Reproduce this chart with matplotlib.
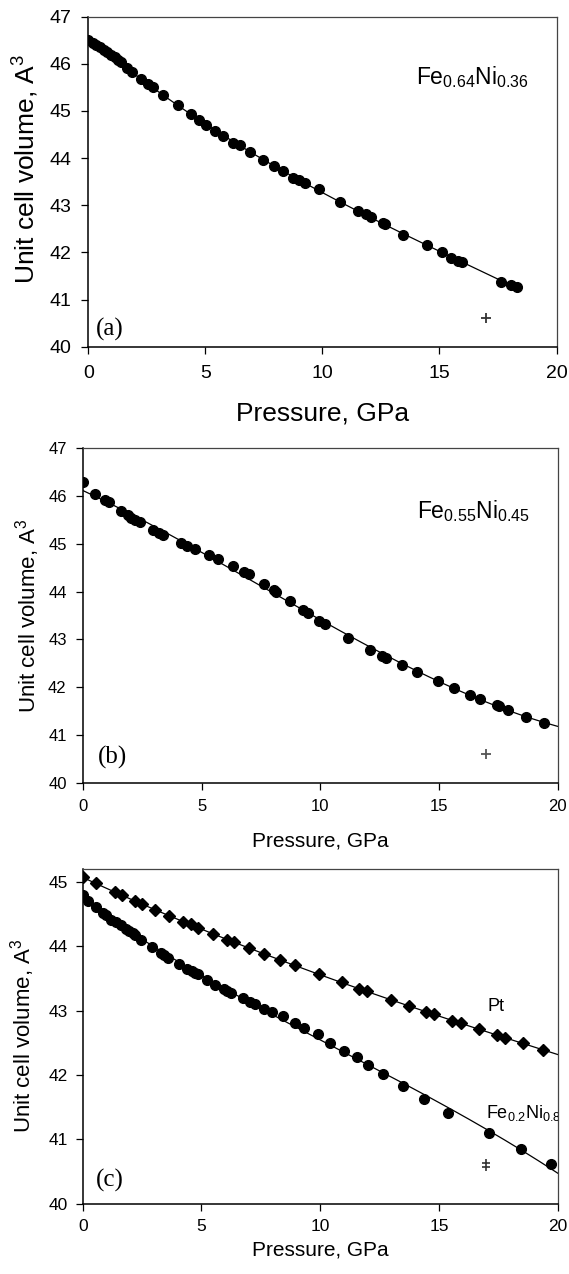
import numpy as np
import matplotlib
matplotlib.use("Agg")
import matplotlib.pyplot as plt
from matplotlib.path import Path

plt.rcParams['font.family'] = ['Liberation Sans', 'DejaVu Sans']
plt.rcParams['mathtext.fontset'] = 'custom'
plt.rcParams['mathtext.rm'] = 'Liberation Sans'
plt.rcParams['mathtext.it'] = 'Liberation Sans'
plt.rcParams['mathtext.bf'] = 'Liberation Sans'

# ---------------- data ----------------
# (a) Fe0.64Ni0.36
p_a = [0, 0.19, 0.34, 0.5, 0.65, 0.81, 0.96, 1.12, 1.27, 1.40, 1.66, 1.88, 2.23, 2.53, 2.78,
       3.21, 3.83, 4.37, 4.73, 5.01, 5.43, 5.74, 6.16, 6.47, 6.90, 7.47, 7.94, 8.31, 8.76,
       9.02, 9.26, 9.84, 10.74, 11.5, 11.86, 12.08, 12.6, 12.67, 13.44, 14.45, 15.1, 15.5,
       15.8, 15.97, 17.65, 18.05, 18.3]
v_a = [46.51, 46.45, 46.40, 46.35, 46.30, 46.25, 46.19, 46.14, 46.08, 46.03, 45.91, 45.82,
       45.68, 45.58, 45.50, 45.34, 45.13, 44.93, 44.81, 44.70, 44.58, 44.46, 44.33, 44.27,
       44.13, 43.97, 43.83, 43.72, 43.58, 43.53, 43.48, 43.34, 43.07, 42.88, 42.81, 42.76,
       42.62, 42.60, 42.38, 42.16, 42.0, 41.89, 41.82, 41.79, 41.38, 41.31, 41.26]

# (b) Fe0.55Ni0.45
p_b = [0, 0.51, 0.92, 1.09, 1.59, 1.89, 2.01, 2.19, 2.39, 2.96, 3.19, 3.37, 4.14, 4.38, 4.72,
       5.30, 5.67, 6.31, 6.76, 6.99, 7.63, 8.05, 8.12, 8.70, 9.27, 9.47, 9.96, 10.21, 11.15,
       12.11, 12.58, 12.77, 13.46, 14.08, 14.94, 15.62, 16.31, 16.74, 17.44, 17.53, 17.90,
       18.68, 19.43]
v_b = [46.29, 46.04, 45.92, 45.87, 45.69, 45.61, 45.55, 45.50, 45.45, 45.29, 45.22, 45.18,
       45.02, 44.96, 44.89, 44.76, 44.69, 44.54, 44.42, 44.37, 44.16, 44.04, 44.00, 43.81,
       43.62, 43.56, 43.39, 43.33, 43.03, 42.77, 42.65, 42.60, 42.46, 42.32, 42.12, 41.98,
       41.84, 41.76, 41.63, 41.61, 41.53, 41.38, 41.25]

# (c) Pt
p_pt = [0, 0.54, 1.35, 1.64, 2.22, 2.49, 3.06, 3.63, 4.24, 4.54, 4.85, 5.48, 6.09, 6.38, 7.01,
        7.65, 8.29, 8.95, 9.95, 10.91, 11.63, 11.98, 12.98, 13.72, 14.46, 14.81, 15.53, 15.91,
        16.68, 17.44, 17.78, 18.54, 19.36]
v_pt = [45.07, 44.98, 44.84, 44.80, 44.70, 44.65, 44.56, 44.47, 44.38, 44.34, 44.29, 44.19,
        44.10, 44.06, 43.97, 43.88, 43.79, 43.70, 43.56, 43.44, 43.34, 43.30, 43.16, 43.07,
        42.98, 42.94, 42.84, 42.80, 42.71, 42.62, 42.58, 42.49, 42.39]

# (c) Fe0.2Ni0.8
p_c = [0, 0.23, 0.54, 0.84, 0.96, 1.19, 1.41, 1.61, 1.84, 1.96, 2.11, 2.22, 2.45, 2.91, 3.29,
       3.44, 3.60, 4.05, 4.39, 4.59, 4.74, 4.85, 5.25, 5.59, 5.97, 6.09, 6.23, 6.76, 7.04,
       7.27, 7.65, 7.96, 8.45, 8.95, 9.33, 9.89, 10.42, 10.99, 11.56, 12.02, 12.66, 13.47,
       14.36, 15.38, 17.09, 18.47, 19.71]
v_c = [44.79, 44.70, 44.61, 44.52, 44.48, 44.41, 44.38, 44.33, 44.27, 44.24, 44.20, 44.17,
       44.10, 43.99, 43.89, 43.86, 43.82, 43.72, 43.65, 43.61, 43.58, 43.56, 43.47, 43.40,
       43.34, 43.31, 43.27, 43.19, 43.13, 43.10, 43.03, 42.98, 42.91, 42.80, 42.73, 42.63,
       42.50, 42.37, 42.28, 42.15, 42.01, 41.83, 41.62, 41.41, 41.09, 40.84, 40.61]

# reference cross point (same in all panels)
p_ref = [17.0]
v_ref = [40.6]

x_ticks = [0, 5, 10, 15, 20]

W, H = 569, 1274
fig = plt.figure(figsize=(W / 100, H / 100), dpi=100)

double_cross = Path([(0, -1), (0, 1), (-0.7, 0.3), (0.7, 0.3), (-0.7, -0.3), (0.7, -0.3)],
                    [Path.MOVETO, Path.LINETO, Path.MOVETO, Path.LINETO, Path.MOVETO, Path.LINETO])


def make_ax(left, top, right, bottom):
    ax = fig.add_axes([left / W, 1 - bottom / H, (right - left) / W, (bottom - top) / H])
    return ax, (right - left), (bottom - top)


def style(ax, axw, axh, ylim, yticks, tick_fs, xl_fs, yl_fs, xl_off, yl_x,
          xpad, ypad, yl_y=0.5):
    ax.set_xlim(0, 20)
    ax.set_ylim(*ylim)
    ax.set_xticks(x_ticks)
    ax.set_yticks(yticks)
    ax.tick_params(direction='out', length=5, width=0.9, labelsize=tick_fs,
                   top=False, right=False)
    ax.tick_params(axis='x', pad=xpad)
    ax.tick_params(axis='y', pad=ypad)
    for s in ['left', 'bottom']:
        ax.spines[s].set_linewidth(1.1)
        ax.spines[s].set_color('black')
    for s in ['top', 'right']:
        ax.spines[s].set_linewidth(0.9)
        ax.spines[s].set_color('#444444')
    ax.set_xlabel('Pressure, GPa', fontsize=xl_fs, va='center')
    ax.xaxis.set_label_coords(0.5, -xl_off / axh)
    ax.set_ylabel('Unit cell volume, A$^{3}$', fontsize=yl_fs, va='center')
    ax.yaxis.set_label_coords(-yl_x / axw, yl_y)


def fit_line(ax, p, v, pmax, deg=3):
    c = np.polyfit(p, v, deg)
    xx = np.linspace(0, pmax, 200)
    ax.plot(xx, np.polyval(c, xx), color='black', lw=0.9, zorder=2)


serif = ['Liberation Serif', 'DejaVu Serif']

# ---- panel (a)
ax, aw, ah = make_ax(88.3, 16.7, 556.5, 346.7)
fit_line(ax, p_a, v_a, max(p_a))
ax.plot(p_a, v_a, 'o', color='black', ms=7, zorder=3)
ax.plot(p_ref, v_ref, '+', color='#333333', ms=7, mew=1.3)
ax.text(13.98, 45.73, 'Fe$_{0.64}$Ni$_{0.36}$', fontsize=16.5, va='center')
ax.text(0.34, 40.37, '(a)', fontsize=18, family=serif, va='center')
style(ax, aw, ah, (40, 47), range(40, 48), 14, 19, 19, 67, 62, 8, 7, 0.54)

# ---- panel (b)
ax, aw, ah = make_ax(83.3, 448.3, 557.5, 782.7)
fit_line(ax, p_b, v_b, 20)
ax.plot(p_b, v_b, 'o', color='black', ms=7, zorder=3)
ax.plot(p_ref, v_ref, '+', color='#555555', ms=7, mew=1.3)
ax.text(14.07, 45.69, 'Fe$_{0.55}$Ni$_{0.45}$', fontsize=16.5, va='center')
ax.text(0.61, 40.52, '(b)', fontsize=18, family=serif, va='center')
style(ax, aw, ah, (40, 47), range(40, 48), 12, 15, 16, 58, 56, 6.5, 7)

# ---- panel (c)
ax, aw, ah = make_ax(82.7, 869, 557.7, 1203.5)
fit_line(ax, p_pt, v_pt, 20)
fit_line(ax, p_c, v_c, 20)
ax.plot(p_pt, v_pt, 'D', color='black', ms=6.3, zorder=3)
ax.plot(p_c, v_c, 'o', color='black', ms=7, zorder=3)
ax.plot(p_ref, v_ref, marker=double_cross, ls='none', color='#333333', ms=9, mew=1.2)
ax.text(17.06, 43.06, 'Pt', fontsize=13, va='center')
ax.text(16.98, 41.4, 'Fe$_{0.2}$Ni$_{0.8}$', fontsize=13, va='center', clip_on=True)
ax.text(0.54, 40.36, '(c)', fontsize=18, family=serif, va='center')
style(ax, aw, ah, (40, 45.2), range(40, 46), 12.5, 15, 16, 46, 60, 6.5, 5.5)

fig.savefig('out.png', dpi=100)
